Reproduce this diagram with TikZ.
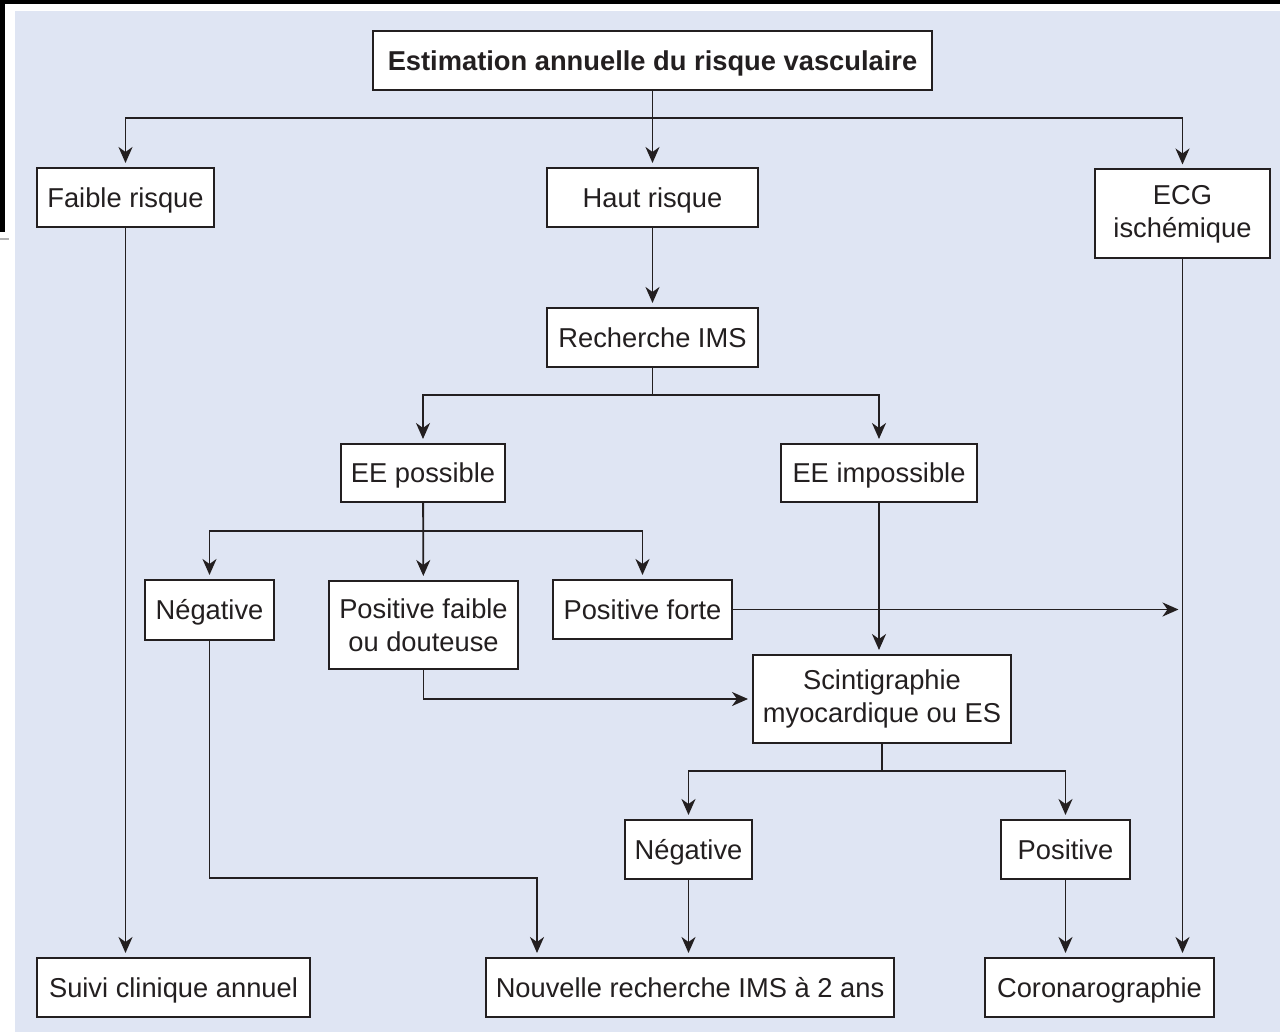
\documentclass[tikz,border=0pt]{standalone}
\usepackage{fontspec}
\setmainfont{Liberation Sans}
\usetikzlibrary{arrows.meta,positioning,calc}

\definecolor{panel}{RGB}{223,229,243}
\definecolor{ink}{RGB}{35,31,32}

\begin{document}
\begin{tikzpicture}[
  x=0.5pt, y=-0.5pt,
  every node/.style={font=\fontsize{13.65pt}{16.5pt}\selectfont},
  frame/.style={draw=ink, fill=white, line width=1pt, text=ink, align=center, inner sep=2pt},
  box/.style={frame, minimum height=29.5pt, text height=11pt, text depth=1.2pt},
  tall/.style={frame, minimum height=44.5pt},
  headbox/.style={box, font=\fontsize{13.65pt}{16.5pt}\selectfont\bfseries},
  arrow/.style={-{Stealth[length=8pt,width=7pt,inset=2.5pt]}, line width=0.9pt, draw=ink, shorten >=2pt},
  link/.style={line width=0.9pt, draw=ink}
]
% page edge and panel
\useasboundingbox (0,0) rectangle (1280,1032);
\fill[black] (0,0) rectangle (1280,4);
\fill[black] (0,0) rectangle (5,232);
\fill[panel] (15,11) rectangle (1280,1032);
\fill[gray!60] (0,238) rectangle (9,240);

\node[headbox, minimum width=279.5pt] (esti) at (652.5,60.5) {Estimation annuelle du risque vasculaire};
\node[box, minimum width=88.5pt] (faible) at (125.5,197.5) {Faible risque};
\node[box, minimum width=105.5pt] (haut) at (652.5,197.5) {Haut risque};
\node[tall, minimum width=87.5pt] (ecg) at (1182.5,214) {ECG\\ischémique};
\node[box, minimum width=105.5pt] (recherche) at (652.5,337.5) {Recherche IMS};
\node[box, minimum width=82pt, minimum height=29pt] (eepos) at (423,473) {EE possible};
\node[box, minimum width=98pt, minimum height=29pt] (eeimp) at (879,473) {EE impossible};
\node[box, minimum width=64.5pt, minimum height=30pt] (neg1) at (209.5,610) {Négative};
\node[tall, minimum width=94.5pt, minimum height=44pt] (posfaible) at (423.5,625) {Positive faible\\ou douteuse};
\node[box, minimum width=89.5pt] (posforte) at (642.5,609.5) {Positive forte};
\node[tall, minimum width=129pt, minimum height=44pt] (scinti) at (882,699) {Scintigraphie\\myocardique ou ES};
\node[box, minimum width=63.5pt] (neg2) at (688.5,849.5) {Négative};
\node[box, minimum width=64.5pt] (pos) at (1065.5,849.5) {Positive};
\node[box, minimum width=136.5pt] (suivi) at (173.5,987.5) {Suivi clinique annuel};
\node[box, minimum width=204pt] (nouvelle) at (690,987.5) {Nouvelle recherche IMS à 2 ans};
\node[box, minimum width=114.5pt] (coro) at (1099.5,987.5) {Coronarographie};

% branch points
\coordinate (split1) at (652.5,118);
\coordinate (split2) at (652.5,395);
\coordinate (split3) at (423,531);
\coordinate (split4) at (882,771);
\coordinate (bend) at (537,878);

\draw[arrow] (esti) -- (haut);
\draw[arrow] (split1) -| (faible);
\draw[arrow] (split1) -| (ecg);

\draw[arrow] (haut) -- (recherche);
\draw[link] (recherche) -- (split2);
\draw[arrow] (split2) -| (eepos);
\draw[arrow] (split2) -| (eeimp);

\draw[arrow] (eepos) -- (posfaible);
\draw[arrow] (split3) -| (neg1);
\draw[arrow] (split3) -| (posforte);
\draw[arrow] (eeimp.south) -- (eeimp.south |- scinti.north);
\draw[arrow] (posfaible.south) |- (scinti.west);
\draw[arrow] (posforte.east) -- (posforte.east -| ecg.south);

\draw[link] (scinti) -- (split4);
\draw[arrow] (split4) -| (neg2);
\draw[arrow] (split4) -| (pos);

\draw[arrow] (neg1.south) |- (bend) -- (bend |- nouvelle.north);
\draw[arrow] (neg2) -- (neg2 |- nouvelle.north);
\draw[arrow] (pos) -- (pos |- coro.north);
\draw[arrow] (ecg) -- (ecg |- coro.north);
\draw[arrow] (faible) -- (faible |- suivi.north);

\end{tikzpicture}
\end{document}
